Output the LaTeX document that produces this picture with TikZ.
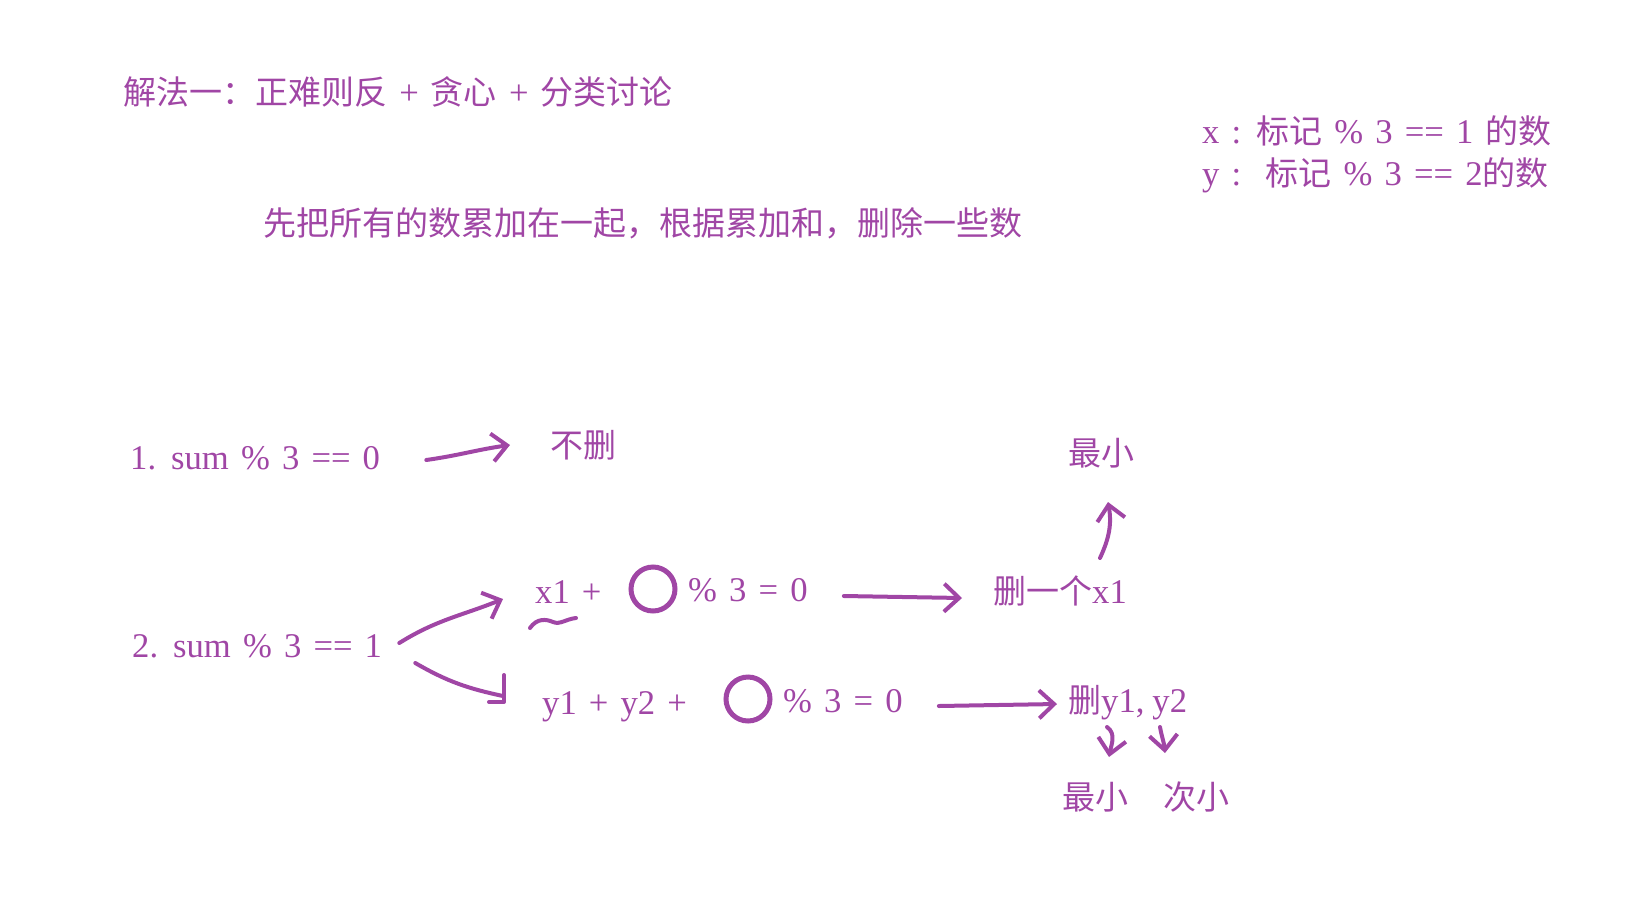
\documentclass[tikz,border=0pt]{standalone}
\usepackage{fontspec}
\setmainfont[WordSpace=1.4, Scale=1.05]{Liberation Serif}
\newfontfamily\cjk{Noto Sans CJK SC}
% 汉字与拉丁字母自动切换字体
\XeTeXinterchartokenstate=1
\newXeTeXintercharclass\hanclass
\newcount\hanchar
\hanchar="4E00
\loop \XeTeXcharclass\hanchar=\hanclass \ifnum\hanchar<"9FFF \advance\hanchar 1 \repeat
\hanchar="FF00
\loop \XeTeXcharclass\hanchar=\hanclass \ifnum\hanchar<"FFEF \advance\hanchar 1 \repeat
\XeTeXinterchartoks 0 \hanclass = {\cjk}
\XeTeXinterchartoks 4095 \hanclass = {\cjk}
\XeTeXinterchartoks \hanclass 0 = {\rmfamily}
\XeTeXinterchartoks \hanclass 4095 = {\rmfamily}
\usetikzlibrary{arrows.meta, positioning, calc}
\definecolor{purp}{RGB}{160,70,165}

\begin{document}
\begin{tikzpicture}[
    x=1pt, y=-1pt,
    every node/.style={font=\fontsize{33pt}{39pt}\selectfont}, % 统一字号
    txt/.style={anchor=base west, inner sep=0pt, text=purp}, % 文字(按基线左对齐)
    hand/.style={purp, line width=4pt, line cap=round, line join=round,
        -{Straight Barb[length=15pt, width=28pt]}}, % 手绘箭头
    ring/.style={circle, draw=purp, line width=5pt, minimum size=44pt, inner sep=0pt} % 空位圆圈
]
    \useasboundingbox (0,0) rectangle (1637,900);

    % 1. 标题与说明
    \node[txt] (title) at (123,104) {解法一：正难则反 + 贪心 + 分类讨论};
    \node[txt] (idea) at (263,235) {先把所有的数累加在一起，根据累加和，删除一些数};
    \node[txt] (xnote) at (1202,143) {x : 标记 \% 3 == 1 的数};
    \node[txt] (ynote) at (1202,185) {y :~~标记 \% 3 == 2的数};

    % 2. 情况一:sum % 3 == 0
    \node[txt] (sum1) at (130,469) {1. sum \% 3 == 0};
    \node[txt] (keep) at (550,457) {不删};
    \draw[hand] ([xshift=46pt,yshift=9pt]sum1.base east) to[out=8,in=188]
        ([xshift=-40pt,yshift=12pt]keep.base west);

    % 3. 情况二:sum % 3 == 1
    \node[txt] (sum2) at (132,657) {2. sum \% 3 == 1};
    % 删一个x1
    \node[txt] (xrow) at (535,603) {x1 +};
    \node[ring] (hole1) at (653,589) {};
    \node[txt] (xmod) at (688,601) {\% 3 = 0};
    \node[txt] (delx) at (993,603) {删一个x1};
    \node[txt] (minx) at (1068,465) {最小};
    % 删y1,y2
    \node[txt] (yrow) at (542,714) {y1 + y2 +};
    \node[ring] (hole2) at (748,699) {};
    \node[txt] (ymod) at (783,712) {\% 3 = 0};
    \node[txt] (dely) at (1068,712) {删y1,\hspace{8pt}y2};
    \node[txt] (miny) at (1062,809) {最小};
    \node[txt] (secy) at (1163,809) {次小};

    % x1下面的波浪线
    \draw[purp, line width=4pt, line cap=round] (530,628) .. controls (537,618) and (546,619) .. (553,622)
        .. controls (560,625) and (566,619) .. (576,618);

    % 分支箭头
    \draw[hand] ([xshift=17pt,yshift=14pt]sum2.base east) to[out=32,in=202]
        ([xshift=-32pt,yshift=4pt]xrow.base west);
    \draw[purp, line width=4pt, line cap=round, line join=round]
        ([xshift=33pt,yshift=-6pt]sum2.base east) to[out=-30,in=168]
        ([xshift=-39pt,yshift=18pt]yrow.base west) coordinate (yend);
    \draw[purp, line width=4pt, line cap=round, line join=round]
        ([xshift=1pt,yshift=21pt]yend) -- ([xshift=1pt,yshift=-6pt]yend) -- ++(-15,0);

    % 向右的箭头
    \draw[hand] ([xshift=36pt,yshift=5pt]xmod.base east) -- ([xshift=-31pt,yshift=5pt]delx.base west);
    \draw[hand] ([xshift=36pt,yshift=6pt]ymod.base east) -- ([xshift=-11pt,yshift=8pt]dely.base west);

    % 指向最小/次小
    \draw[hand] ([xshift=107pt,yshift=45pt]delx.base west) to[out=65,in=-80]
        ([xshift=40pt,yshift=-37pt]minx.base west);
    \draw[hand] ([xshift=39pt,yshift=-15pt]dely.base west) to[out=-35,in=80]
        ([xshift=47pt,yshift=52pt]miny.base west);
    \draw[hand] ([xshift=92pt,yshift=-15pt]dely.base west) to[out=-80,in=95]
        ([xshift=2pt,yshift=56pt]secy.base west);

\end{tikzpicture}
\end{document}
